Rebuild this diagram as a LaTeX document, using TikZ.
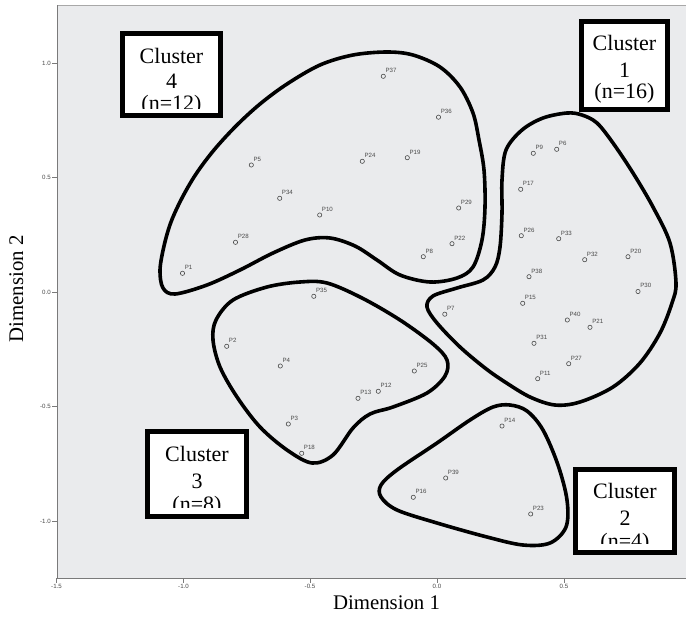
\documentclass[tikz,border=0pt]{standalone}
\usepackage{fontspec}
\setmainfont{Liberation Serif}
\newfontfamily\labfont{Liberation Sans}
\definecolor{plotbg}{HTML}{EAEBED}
\definecolor{axisdark}{HTML}{7A7A7A}
\definecolor{axislight}{HTML}{A8A8A8}
\definecolor{ptgray}{HTML}{4A4A4A}
\begin{document}
\begin{tikzpicture}[x=0.75pt,y=-0.75pt,
  blob/.style={line width=2.7pt, draw=black, line join=round},
  cbox/.style={draw=black, fill=white, line width=3.4pt, inner sep=0pt},
  ctext/.style={anchor=base, inner sep=0pt, font=\fontsize{16.5}{18}\selectfont},
  pt/.style={circle, draw=ptgray, line width=0.45pt, inner sep=0pt, minimum size=3.2pt},
  plab/.style={anchor=base west, inner sep=0pt, text=ptgray, font=\labfont\fontsize{4.6}{5}\selectfont},
  tlab/.style={inner sep=0pt, text=ptgray, font=\labfont\fontsize{4.6}{5}\selectfont},
  axtitle/.style={inner sep=0pt, font=\fontsize{15.6}{18}\selectfont}]

\useasboundingbox (0,0) rectangle (686,618);
\fill[white] (0,0) rectangle (686,618);
\fill[plotbg] (57,5) rectangle (686,578);
\draw[axislight, line width=0.6pt] (686,5) -- (57,5);
\draw[axisdark, line width=0.6pt] (57,5) -- (57,578) -- (686,578);

% y ticks
\foreach \yy/\t [count=\i] in {63/1.0,177.5/0.5,292/0.0,406.5/-0.5,521/-1.0} {
  \draw[axisdark, line width=0.5pt] (52,\yy) -- (57,\yy);
  \node[tlab, anchor=east] (ytl\i) at (51,\yy) {\t};
}
% x ticks
\foreach \xx/\t [count=\i] in {56.5/-1.5,183.5/-1.0,310/-0.5,437/0.0,564/0.5} {
  \draw[axisdark, line width=0.5pt] (\xx,578) -- (\xx,583);
  \node[tlab, anchor=north] (xtl\i) at (\xx,584) {\t};
}

\node[axtitle, anchor=base] (xtitle) at (386.5,609) {Dimension 1};
\node[axtitle, anchor=base, rotate=90] (ytitle) at (23,289) {Dimension 2};

% cluster contours
\draw[blob] plot[smooth cycle, tension=0.55] coordinates {
 (175,294) (163,288) (160,270) (164,246) (171,222) (182,198) (196,174) (214,150)
 (236,126) (260,104) (287,84) (320,65) (353,55) (387,52) (413,55) (440,67) (460,87)
 (473,113) (479,140) (484,170) (485,207) (482,240) (473,267) (457,278) (430,282)
 (400,275) (377,260) (355,246) (330,238) (305,240) (273,253) (240,270) (207,285)};
\draw[blob] plot[smooth cycle, tension=0.55] coordinates {
 (502,180) (506,150) (522,130) (543,118) (567,113) (582,115) (597,123) (613,143)
 (633,173) (653,207) (670,243) (676,283) (672,303) (660,333) (640,363) (613,387)
 (580,402) (555,405) (530,397) (505,382) (485,368) (460,347) (437,323) (427,307)
 (433,296) (457,288) (483,280) (495,267) (500,247) (502,213)};
\draw[blob] plot[smooth cycle, tension=0.55] coordinates {
 (327,283) (300,282) (267,287) (233,300) (216,320) (213,340) (220,367) (237,397)
 (260,427) (287,450) (312,463) (333,455) (353,428) (370,414) (393,407) (427,393)
 (445,376) (447,360) (433,344) (400,320) (362,298)};
\draw[blob] plot[smooth cycle, tension=0.55] coordinates {
 (510,405) (527,411) (543,430) (558,465) (567,500) (566,527) (550,543) (523,545)
 (487,537) (437,523) (397,510) (381,497) (381,485) (397,470) (437,443) (470,420)
 (493,407)};

% points
\foreach \n/\x/\y in {
 1/182.5/273.3, 2/226.7/346.3, 3/288.3/424, 4/280.3/366, 5/251.3/165,
 6/556.7/149.3, 7/444.8/314.2, 8/423.3/256.7, 9/533.3/153.3, 10/319.7/215,
 11/537.7/378.7, 12/378.3/391.3, 13/358/398.3, 14/502/426, 15/522.7/303.3,
 16/413.3/497.3, 17/520.7/189.3, 18/301.7/453.3, 19/407.3/157.7, 20/628/256.7,
 21/590/327.3, 22/452/243.7, 23/530.7/514, 24/362.3/161.3, 25/414.3/371,
 26/521.3/235.7, 27/568.7/363.7, 28/235.5/242.3, 29/458.7/208, 30/638/291.5,
 31/534/343.3, 32/584.7/259.7, 33/558.7/238.7, 34/279.7/198.3, 35/313.8/296.3,
 36/438.5/117.2, 37/383.3/76.3, 38/529/276.7, 39/445.7/478, 40/567.3/320} {
  \node[pt] (P\n) at (\x,\y) {};
  \node[plab] (L\n) at (\x+2,\y-3.7) {P\n};
}

% cluster boxes
\node[cbox, minimum width=73.875pt, minimum height=61.875pt] (c4) at (171.5,74.5) {};
\node[cbox, minimum width=64.875pt, minimum height=66.375pt] (c1) at (624.5,65.5) {};
\node[cbox, minimum width=74.625pt, minimum height=64.125pt] (c3) at (197,474) {};
\node[cbox, minimum width=74.625pt, minimum height=62.625pt] (c2) at (625,511) {};

\node[ctext] (c1a) at (624.5,50) {Cluster};
\node[ctext] (c1b) at (624.5,77.3) {1};
\node[ctext] (c1c) at (624.5,98.3) {(n=16)};

\begin{scope}
\clip (124,35) rectangle (219,108.3);
\node[ctext] (c4a) at (171.5,63.3) {Cluster};
\node[ctext] (c4b) at (171.5,88.3) {4};
\node[ctext] (c4c) at (171.5,110) {(n=12)};
\end{scope}
\begin{scope}
\clip (149,433) rectangle (245,507.3);
\node[ctext] (c3a) at (197,461.7) {Cluster};
\node[ctext] (c3b) at (197,488.3) {3};
\node[ctext] (c3c) at (197,511.3) {(n=8)};
\end{scope}
\begin{scope}
\clip (577,471) rectangle (673,543.3);
\node[ctext] (c2a) at (625,498.3) {Cluster};
\node[ctext] (c2b) at (625,525) {2};
\node[ctext] (c2c) at (625,548.3) {(n=4)};
\end{scope}
\end{tikzpicture}
\end{document}
